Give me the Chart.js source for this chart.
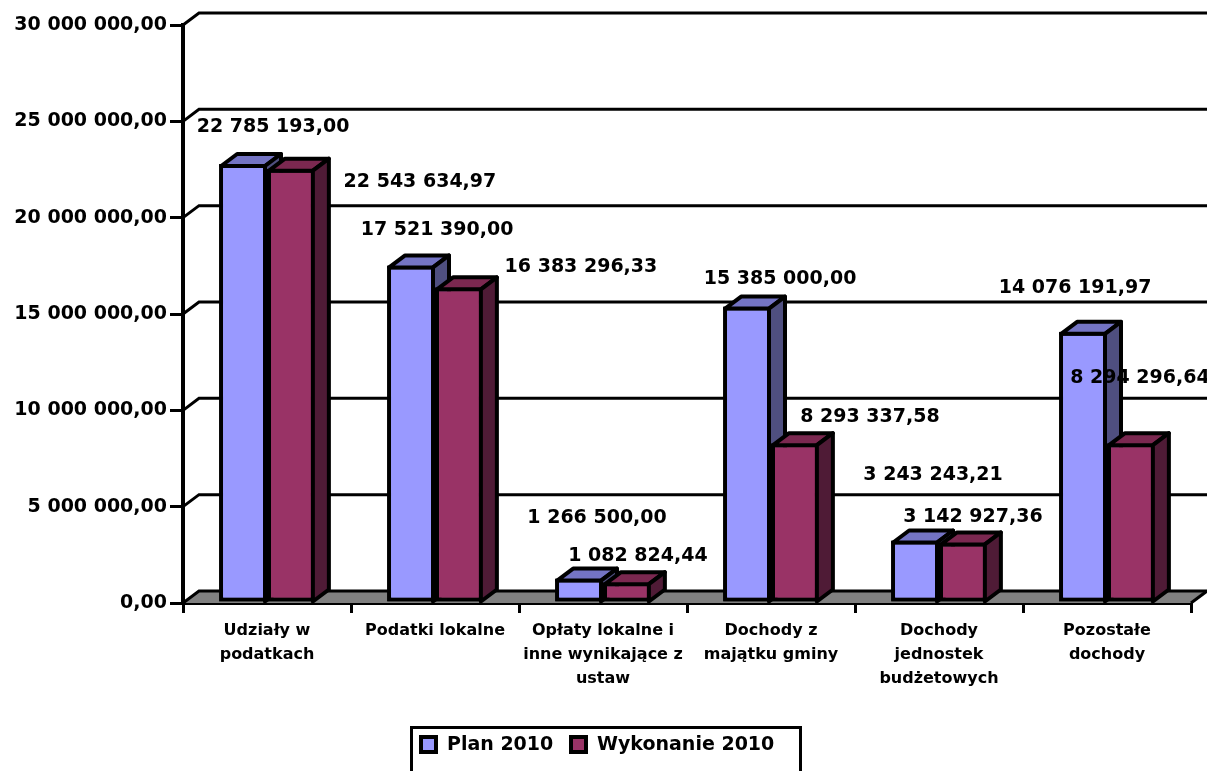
<!DOCTYPE html>
<html>
<head>
<meta charset="utf-8">
<script src="https://cdn.jsdelivr.net/npm/chart.js@4"></script>
<style>
    html, body { margin: 0; padding: 0; background: #fff; }
    #wrap { width: 1207px; height: 771px; }
</style>
</head>
<body>
<div id="wrap"><canvas id="wykres" width="1207" height="771"></canvas></div>
<script>
const kategorie = [
    ['Udziały w', 'podatkach'],
    'Podatki lokalne',
    ['Opłaty lokalne i', 'inne wynikające z', 'ustaw'],
    ['Dochody z', 'majątku gminy'],
    ['Dochody', 'jednostek', 'budżetowych'],
    ['Pozostałe', 'dochody']
];
const serie = ['Plan 2010', 'Wykonanie 2010'];
const plan2010 = [22785193.00, 17521390.00, 1266500.00, 15385000.00, 3243243.21, 14076191.97];
const wykonanie2010 = [22543634.97, 16383296.33, 1082824.44, 8293337.58, 3142927.36, 8294296.64];
const osYMin = 0;
const osYMax = 30000000;
const osYKrok = 5000000;

// przesuniecia etykiet wzgledem gornej krawedzi slupka (uklad jak w Excelu)
const przesunieciaPlan = [[30, -37], [26, -35], [18, -61], [33, -28], [18, -65], [-8, -44]];
const przesunieciaWyk = [[129, 13], [122, -20], [11, -26], [75, -26], [10, -25], [9, -65]];

const GL_X = 16, GL_Y = 12; // glebokosc 3D
const RAMKA = 4;
const kolory = [
    { przod: '#9999FF', gora: '#7474C4', bok: '#4F4F80' },
    { przod: '#993366', gora: '#7B2850', bok: '#4F1B36' }
];

function fmt(v) {
    const [c, d] = v.toFixed(2).split('.');
    return c.replace(/\B(?=(\d{3})+(?!\d))/g, ' ') + ',' + d;
}

function wielokat(ctx, pts, fill) {
    ctx.beginPath();
    ctx.moveTo(pts[0][0], pts[0][1]);
    for (let i = 1; i < pts.length; i++) ctx.lineTo(pts[i][0], pts[i][1]);
    ctx.closePath();
    if (fill) { ctx.fillStyle = fill; ctx.fill(); }
    ctx.stroke();
}

const sciany3d = {
    id: 'sciany3d',
    beforeDatasetsDraw(chart) {
        const ctx = chart.ctx;
        const a = chart.chartArea;
        const ys = chart.scales.y;
        ctx.save();
        ctx.strokeStyle = '#000';
        ctx.lineWidth = 3;
        ctx.lineJoin = 'miter';
        // podloga
        const y0 = ys.getPixelForValue(0);
        ctx.beginPath();
        ctx.moveTo(a.left, y0);
        ctx.lineTo(a.right, y0);
        ctx.lineTo(a.right + GL_X, y0 - GL_Y);
        ctx.lineTo(a.left + GL_X, y0 - GL_Y);
        ctx.closePath();
        ctx.fillStyle = '#808080';
        ctx.fill();
        ctx.beginPath();
        ctx.moveTo(a.right, y0);
        ctx.lineTo(a.right + GL_X, y0 - GL_Y);
        ctx.stroke();
        // linie siatki na tylnej scianie
        ys.ticks.forEach(t => {
            const y = ys.getPixelForValue(t.value);
            ctx.beginPath();
            ctx.moveTo(a.left, y);
            ctx.lineTo(a.left + GL_X, y - GL_Y);
            ctx.lineTo(chart.width, y - GL_Y);
            ctx.stroke();
        });
        ctx.restore();
    },
    afterDatasetsDraw(chart) {
        const ctx = chart.ctx;
        ctx.save();
        ctx.strokeStyle = '#000';
        ctx.lineWidth = RAMKA;
        ctx.lineJoin = 'round';
        chart.data.datasets.forEach((ds, i) => {
            const meta = chart.getDatasetMeta(i);
            meta.data.forEach(el => {
                el.draw(ctx);
                const l = el.x - el.width / 2 + RAMKA / 2;
                const r = el.x + el.width / 2 - RAMKA / 2;
                const t = el.y + RAMKA / 2;
                const b = el.base;
                wielokat(ctx, [[l, t], [r, t], [r + GL_X, t - GL_Y], [l + GL_X, t - GL_Y]], kolory[i].gora);
                wielokat(ctx, [[r, t], [r + GL_X, t - GL_Y], [r + GL_X, b - GL_Y], [r, b]], kolory[i].bok);
            });
        });
        // etykiety wartosci
        ctx.fillStyle = '#000';
        ctx.font = 'bold 19px "DejaVu Sans"';
        ctx.textAlign = 'center';
        ctx.textBaseline = 'middle';
        [przesunieciaPlan, przesunieciaWyk].forEach((przes, i) => {
            const meta = chart.getDatasetMeta(i);
            meta.data.forEach((el, j) => {
                const v = chart.data.datasets[i].data[j];
                ctx.fillText(fmt(v), el.x + przes[j][0], el.y + przes[j][1]);
            });
        });
        ctx.restore();
    },
    afterDraw(chart) {
        const ctx = chart.ctx;
        ctx.save();
        ctx.strokeStyle = '#000';
        ctx.lineWidth = 3;
        ctx.strokeRect(411.5, 727.5, 389, 60);
        ctx.font = 'bold 19px "DejaVu Sans"';
        ctx.textBaseline = 'middle';
        ctx.textAlign = 'left';
        const pozycje = [421, 571];
        ctx.lineWidth = 4;
        chart.data.datasets.forEach((ds, i) => {
            const x = pozycje[i];
            ctx.fillStyle = ds.backgroundColor;
            ctx.fillRect(x, 737, 15, 15);
            ctx.strokeRect(x, 737, 15, 15);
            ctx.fillStyle = '#000';
            ctx.fillText(ds.label, x + 26, 745);
        });
        ctx.restore();
    }
};

const ctx = document.getElementById('wykres');
new Chart(ctx, {
    type: 'bar',
    data: {
        labels: kategorie,
        datasets: [{
            label: serie[0],
            data: plan2010,
            backgroundColor: kolory[0].przod,
            borderColor: '#000',
            borderWidth: RAMKA,
            borderSkipped: false,
            categoryPercentage: 0.57,
            barPercentage: 1
        }, {
            label: serie[1],
            data: wykonanie2010,
            backgroundColor: kolory[1].przod,
            borderColor: '#000',
            borderWidth: RAMKA,
            borderSkipped: false,
            categoryPercentage: 0.57,
            barPercentage: 1
        }]
    },
    options: {
        responsive: false,
        animation: false,
        layout: { padding: { top: 25, right: 16, left: 0, bottom: 0 } },
        plugins: {
            legend: { display: false },
            tooltip: { enabled: false }
        },
        scales: {
            x: {
                grid: { drawOnChartArea: false, drawTicks: true, tickLength: 10, color: '#000', lineWidth: 3, offset: true },
                border: { color: '#000', width: 4 },
                ticks: {
                    color: '#000',
                    font: { family: 'DejaVu Sans', weight: 'bold', size: 16, lineHeight: 1.5 },
                    padding: 6,
                    maxRotation: 0,
                    autoSkip: false
                },
                afterFit: s => { s.height = 168; }
            },
            y: {
                min: osYMin,
                max: osYMax,
                grid: { drawOnChartArea: false, drawTicks: true, tickLength: 13, color: '#000', lineWidth: 3 },
                border: { color: '#000', width: 4 },
                ticks: {
                    stepSize: osYKrok,
                    color: '#000',
                    font: { family: 'DejaVu Sans', weight: 'bold', size: 19 },
                    padding: 3,
                    callback: v => fmt(v)
                },
                afterFit: s => { s.width = 183; }
            }
        }
    },
    plugins: [sciany3d]
});
</script>
</body>
</html>
